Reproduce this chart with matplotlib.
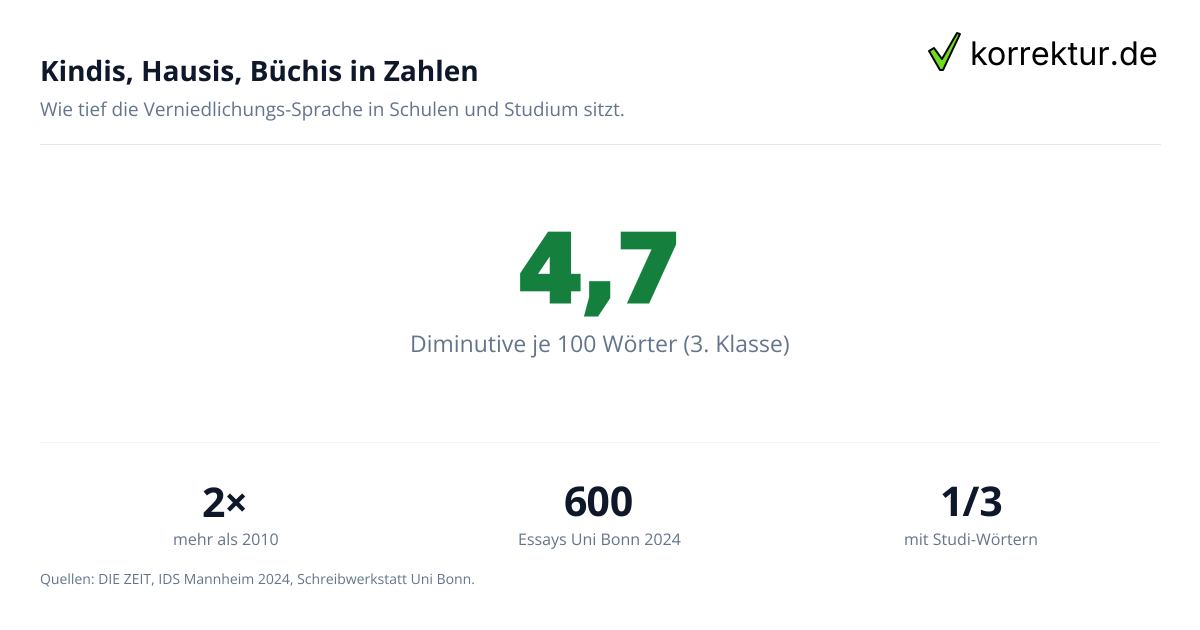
import matplotlib
matplotlib.use("Agg")
import matplotlib.pyplot as plt
import matplotlib.patheffects as pe
from matplotlib.patches import Polygon

W, H = 1200, 630
TITLE = "Kindis, Hausis, Büchis in Zahlen"
SUBTITLE = "Wie tief die Verniedlichungs-Sprache in Schulen und Studium sitzt."
HERO_VALUE = "4,7"
HERO_LABEL = "Diminutive je 100 Wörter (3. Klasse)"
STAT_VALUES = ["2×", "600", "1/3"]
STAT_LABELS = ["mehr als 2010", "Essays Uni Bonn 2024", "mit Studi-Wörtern"]
SOURCE = "Quellen: DIE ZEIT, IDS Mannheim 2024, Schreibwerkstatt Uni Bonn."
BRAND = "korrektur.de"

DARK = "#0f172a"
GREY = "#64748b"
GREEN = "#15803d"
FONT = "Open Sans"

plt.rcParams["text.hinting"] = "no_hinting"
plt.rcParams["text.hinting_factor"] = 1

fig = plt.figure(figsize=(W / 100, H / 100), dpi=100, facecolor="white")
ax = fig.add_axes([0, 0, 1, 1])
ax.set_xlim(0, W)
ax.set_ylim(H, 0)
ax.axis("off")

ax.text(40, 80, TITLE, fontsize=20.35, fontweight="bold", color=DARK, family=FONT, va="baseline")
ax.text(40, 116, SUBTITLE, fontsize=13.36, color=GREY, family=FONT, va="baseline")
ax.plot([40, 1160], [143.5, 143.5], color="#e2e8f0", lw=0.72)
ax.plot([40, 1160], [441.5, 441.5], color="#f1f5f9", lw=0.72)

hero = ax.text(600, 301, HERO_VALUE, fontsize=66, fontweight="bold", color=GREEN, family="DejaVu Sans",
               ha="center", va="baseline")
hero.set_path_effects([pe.Stroke(linewidth=3.6, foreground=GREEN, joinstyle="miter"), pe.Normal()])
ax.text(600, 352, HERO_LABEL, fontsize=16.55, color=GREY, family=FONT, ha="center", va="baseline")

for x, v, l in zip([225, 599, 971.5], STAT_VALUES, STAT_LABELS):
    ax.text(x, 517, v, fontsize=29.3, fontweight="bold", color=DARK, family=FONT, ha="center", va="baseline")
    ax.text(x + (1 if l == STAT_LABELS[0] else 0), 545, l, fontsize=11.85, color=GREY, family=FONT,
            ha="center", va="baseline")

ax.text(40, 585, SOURCE, fontsize=10.12, color=GREY, family=FONT, va="baseline")

check = [(929, 51), (934, 48), (942, 59), (957, 33), (960, 34), (943, 70), (940, 70)]
ax.add_patch(Polygon(check, closed=True, facecolor="#6fdc1e", edgecolor="black", lw=1.4, joinstyle="round"))
ax.text(970, 66, BRAND, fontsize=23.4, color="black", family="Inter", va="baseline")

fig.savefig("out.png", dpi=100, facecolor="white")
